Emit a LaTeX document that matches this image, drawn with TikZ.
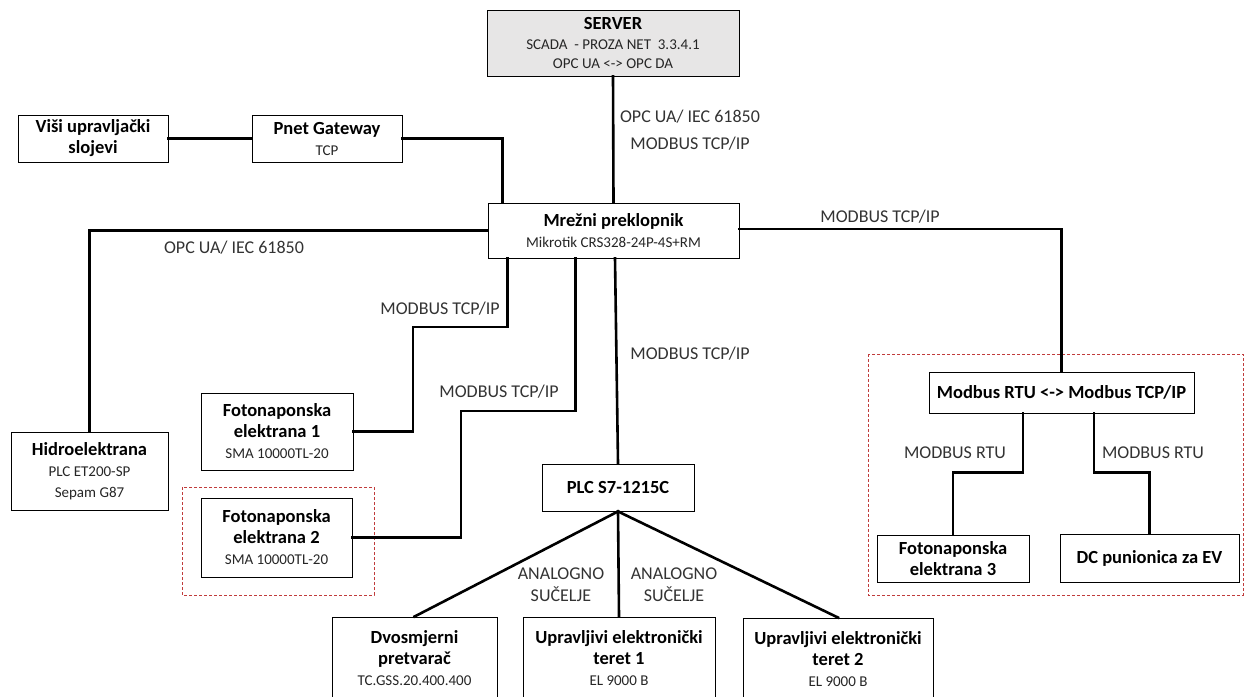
\documentclass[tikz,border=0pt]{standalone}
\usepackage{fontspec}
\setmainfont{Carlito}
\usetikzlibrary{calc}
\definecolor{zonered}{RGB}{192,60,60}
\definecolor{servergray}{RGB}{231,230,230}
\newcommand\boxtitle{\fontsize{18.5}{21}\selectfont\bfseries\color{black}}
\newcommand\boxsub{\fontsize{15}{21}\selectfont\mdseries\color{black!85}}
\begin{document}
\begin{tikzpicture}[x=1pt,y=-1pt,
  box/.style={draw=black, line width=0.9pt, fill=white, inner sep=0pt, align=center,
    font=\fontsize{18.5}{21}\selectfont},
  link/.style={line width=2.6pt, line join=miter, line cap=rect},
  lbl/.style={font=\fontsize{18}{22}\selectfont, text=black!80, align=center, inner sep=0pt},
  zone/.style={draw=zonered, line width=0.8pt, dash pattern=on 3pt off 2pt}]

\useasboundingbox (0,0) rectangle (1246,696);
\clip (0,0) rectangle (1246,696);

% dashed grouping zones
\draw[zone] (182,487) rectangle (374,595);
\draw[zone] (868,354) rectangle (1243,595);

% equipment boxes
\node[box, fill=servergray, minimum width=252, minimum height=66,
      font=\fontsize{18.5}{19.5}\selectfont] (server) at (613,43)
  {\boxtitle SERVER\\ \boxsub SCADA\ \ - PROZA NET\ \ 3.3.4.1\\ \boxsub OPC UA <-> OPC DA};
\node[box, minimum width=251, minimum height=55] (switch) at (613.5,230.5)
  {\boxtitle Mrežni preklopnik\\ \boxsub Mikrotik CRS328-24P-4S+RM};
\node[box, minimum width=150, minimum height=47] (visi) at (93,138.5)
  {\boxtitle Viši upravljački\\ \boxtitle slojevi};
\node[box, minimum width=150, minimum height=47] (pnet) at (327,138.5)
  {\boxtitle Pnet Gateway\\ \boxsub TCP};
\node[box, minimum width=157, minimum height=78] (hidro) at (89.5,471)
  {\boxtitle Hidroelektrana\\ \boxsub PLC ET200-SP\\ \boxsub Sepam G87};
\node[box, minimum width=152, minimum height=77] (foto1) at (277,431.5)
  {\boxtitle Fotonaponska\\ \boxtitle elektrana 1\\ \boxsub SMA 10000TL-20};
\node[box, minimum width=151, minimum height=79] (foto2) at (276.5,537.5)
  {\boxtitle Fotonaponska\\ \boxtitle elektrana 2\\ \boxsub SMA 10000TL-20};
\node[box, minimum width=152, minimum height=47] (plc) at (618,487.5)
  {\boxtitle PLC S7-1215C};
\node[box, minimum width=165, minimum height=82] (dvos) at (414.5,658)
  {\boxtitle Dvosmjerni\\ \boxtitle pretvarač\\ \boxsub TC.GSS.20.400.400};
\node[box, minimum width=192, minimum height=82] (upr1) at (619,658)
  {\boxtitle Upravljivi elektronički\\ \boxtitle teret 1\\ \boxsub EL 9000 B};
\node[box, minimum width=190, minimum height=82] (upr2) at (838,659)
  {\boxtitle Upravljivi elektronički\\ \boxtitle teret 2\\ \boxsub EL 9000 B};
\node[box, minimum width=265, minimum height=41] (conv) at (1061.5,392.5)
  {\boxtitle Modbus RTU <-> Modbus TCP/IP};
\node[box, minimum width=152, minimum height=47] (foto3) at (953,558.5)
  {\boxtitle Fotonaponska\\ \boxtitle elektrana 3};
\node[box, minimum width=179, minimum height=48] (dc) at (1149.5,558)
  {\boxtitle DC punionica za EV};

% connectors
\draw[link] (server.south) -- (switch.north);
\draw[link] (visi.east) -- (pnet.west);
\draw[link] (pnet.east) -| ([xshift=15]switch.north west);
\draw[link] (switch.west) -| (hidro.north);
\draw[link] (foto1.east) -| (413,327) -| ([xshift=20]switch.south west);
\draw[link] (foto2.east) -| (461,411) -| ([xshift=88]switch.south west);
\draw[link] ([xshift=1.5]switch.south) -- (plc.north);
\draw[link] ([yshift=1.5]switch.east) -| (conv.north);
\draw[link] (plc.south) -- (dvos.north);
\draw[link] (plc.south) -- (upr1.north);
\draw[link] (plc.south) -- (upr2.north);
\draw[link] ([xshift=-38.5]conv.south) |- ($(foto3.north)+(0,-62)$) -- (foto3.north);
\draw[link] ([xshift=32.5]conv.south) |- ($(dc.north)+(0,-61)$) -- (dc.north);

% protocol labels
\node[lbl] (lopc) at (690,117) {OPC UA/ IEC 61850};
\node[lbl] (lmod) at (690,144) {MODBUS TCP/IP};
\node[lbl] (lopch) at (234,248) {OPC UA/ IEC 61850};
\node[lbl] (lfa) at (440,309) {MODBUS TCP/IP};
\node[lbl] (lfb) at (499,392) {MODBUS TCP/IP};
\node[lbl] (lplc) at (690,354) {MODBUS TCP/IP};
\node[lbl] (lconv) at (880,217) {MODBUS TCP/IP};
\node[lbl] (lana) at (561,585) {ANALOGNO\\SUČELJE};
\node[lbl] (lanb) at (674,585) {ANALOGNO\\SUČELJE};
\node[lbl] (lrtua) at (955,453) {MODBUS RTU};
\node[lbl] (lrtub) at (1153,453) {MODBUS RTU};
\end{tikzpicture}
\end{document}
